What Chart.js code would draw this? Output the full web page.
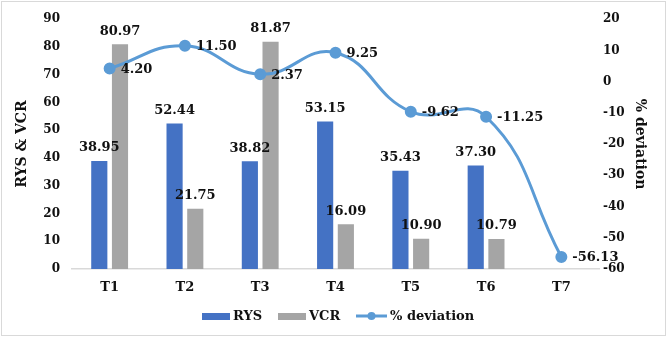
<!DOCTYPE html>
<html>
<head>
<meta charset="utf-8">
<script src="https://cdn.jsdelivr.net/npm/chart.js@4/dist/chart.umd.min.js"></script>
<style>
  html, body { margin: 0; padding: 0; background: #fff; }
  #wrap { width: 668px; height: 340px; position: relative; }
</style>
</head>
<body>
<div id="wrap"><canvas id="chart" width="668" height="340"></canvas></div>
<script>
const categories = ['T1', 'T2', 'T3', 'T4', 'T5', 'T6', 'T7'];
const rysValues = [38.95, 52.44, 38.82, 53.15, 35.43, 37.30, null];
const vcrValues = [80.97, 21.75, 81.87, 16.09, 10.90, 10.79, null];
const deviationValues = [4.20, 11.50, 2.37, 9.25, -9.62, -11.25, -56.13];
const leftTicks = [0, 10, 20, 30, 40, 50, 60, 70, 80, 90];
const rightTicks = [-60, -50, -40, -30, -20, -10, 0, 10, 20];

const FONT = '"DejaVu Serif", serif';
const TEXT = '#111';
const BLUE = '#4472C4';
const GRAY = '#A5A5A5';
const LINE = '#5B9BD5';

// labels over bars and beside points, axis titles, legend, frame
const extras = {
    id: 'extras',
    afterDatasetsDraw(chart) {
        const ctx = chart.ctx;
        ctx.save();
        ctx.fillStyle = TEXT;
        ctx.font = 'bold 13px ' + FONT;
        chart.data.datasets.forEach((ds, i) => {
            const meta = chart.getDatasetMeta(i);
            meta.data.forEach((el, j) => {
                const v = ds.data[j];
                if (v === null) return;
                if (ds.type === 'line') {
                    ctx.textAlign = 'left';
                    ctx.textBaseline = 'middle';
                    ctx.fillText(v.toFixed(2), el.x + 11, el.y + 1);
                } else {
                    ctx.textAlign = 'center';
                    ctx.textBaseline = 'middle';
                    ctx.fillText(v.toFixed(2), el.x, el.y - 13);
                }
            });
        });
        ctx.restore();
    },
    afterDraw(chart) {
        const ctx = chart.ctx;
        const area = chart.chartArea;
        ctx.save();
        ctx.fillStyle = TEXT;
        ctx.font = 'bold 14px ' + FONT;
        ctx.textAlign = 'center';
        ctx.textBaseline = 'middle';
        const midY = (area.top + area.bottom) / 2;

        ctx.save();
        ctx.translate(22, midY);
        ctx.rotate(-Math.PI / 2);
        ctx.fillText('RYS & VCR', 0, 0);
        ctx.restore();

        ctx.save();
        ctx.translate(640, midY);
        ctx.rotate(Math.PI / 2);
        ctx.fillText('% deviation', 0, 0);
        ctx.restore();

        // legend
        const ly = 316;
        ctx.font = 'bold 13px ' + FONT;
        ctx.textAlign = 'left';
        ctx.fillStyle = BLUE;
        ctx.fillRect(202, ly - 3, 28, 7);
        ctx.fillStyle = TEXT;
        ctx.fillText('RYS', 233, ly + 1);
        ctx.fillStyle = GRAY;
        ctx.fillRect(278, ly - 3, 28, 7);
        ctx.fillStyle = TEXT;
        ctx.fillText('VCR', 309, ly + 1);
        ctx.strokeStyle = LINE;
        ctx.lineWidth = 3;
        ctx.beginPath();
        ctx.moveTo(356, ly);
        ctx.lineTo(387, ly);
        ctx.stroke();
        ctx.fillStyle = LINE;
        ctx.beginPath();
        ctx.arc(371.5, ly, 4, 0, Math.PI * 2);
        ctx.fill();
        ctx.fillStyle = TEXT;
        ctx.fillText('% deviation', 390, ly + 1);

        // frame
        ctx.strokeStyle = '#d9d9d9';
        ctx.lineWidth = 1;
        ctx.strokeRect(1.5, 1.5, 664, 334);
        ctx.restore();
    }
};

new Chart(document.getElementById('chart').getContext('2d'), {
    type: 'bar',
    data: {
        labels: categories,
        datasets: [
            {
                label: 'RYS',
                data: rysValues,
                backgroundColor: BLUE,
                yAxisID: 'y',
                categoryPercentage: 0.55,
                barPercentage: 0.78,
                order: 2
            },
            {
                label: 'VCR',
                data: vcrValues,
                backgroundColor: GRAY,
                yAxisID: 'y',
                categoryPercentage: 0.55,
                barPercentage: 0.78,
                order: 2
            },
            {
                type: 'line',
                label: '% deviation',
                data: deviationValues,
                borderColor: LINE,
                backgroundColor: LINE,
                borderWidth: 3,
                tension: 0.45,
                pointRadius: 4.5,
                pointBackgroundColor: LINE,
                pointBorderColor: LINE,
                yAxisID: 'y1',
                order: 1
            }
        ]
    },
    options: {
        responsive: false,
        animation: false,
        layout: { padding: { top: 17, left: 10, right: 0, bottom: 36 } },
        plugins: {
            legend: { display: false },
            tooltip: { enabled: false }
        },
        scales: {
            x: {
                grid: { display: false, drawTicks: false },
                border: { display: true, color: '#d9d9d9', width: 1.5 },
                ticks: { color: TEXT, font: { family: FONT, size: 13, weight: 'bold' }, padding: 11 },
                afterFit(axis) { axis.height = 35; }
            },
            y: {
                position: 'left',
                min: 0,
                max: 90,
                afterBuildTicks(axis) { axis.ticks = leftTicks.map(v => ({ value: v })); },
                grid: { display: false, drawTicks: false },
                border: { display: false },
                ticks: { color: TEXT, font: { family: FONT, size: 12, weight: 'bold' }, padding: 12 },
                afterFit(axis) { axis.width = 62; }
            },
            y1: {
                position: 'right',
                min: -60,
                max: 20,
                afterBuildTicks(axis) { axis.ticks = rightTicks.map(v => ({ value: v })); },
                grid: { display: false, drawTicks: false },
                border: { display: false },
                ticks: { color: TEXT, font: { family: FONT, size: 12, weight: 'bold' }, padding: 4 },
                afterFit(axis) { axis.width = 69; }
            }
        }
    },
    plugins: [extras]
});
</script>
</body>
</html>
